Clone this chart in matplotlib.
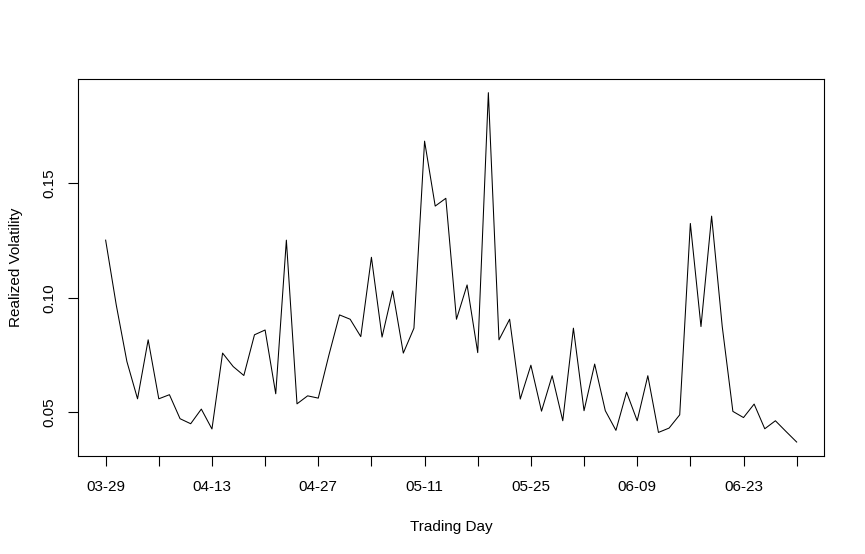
import matplotlib
matplotlib.use("Agg")
import matplotlib.pyplot as plt
import numpy as np

plt.rcParams['font.family'] = ['Liberation Sans', 'DejaVu Sans']

volatility = [
    0.1252, 0.0968, 0.0721, 0.0558, 0.0816, 0.0558, 0.0576, 0.0471, 0.0449, 0.0513,
    0.0426, 0.0758, 0.0699, 0.0660, 0.0838, 0.0859, 0.0580, 0.1252, 0.0536, 0.0571,
    0.0561, 0.0749, 0.0925, 0.0906, 0.0830, 0.1177, 0.0828, 0.1030, 0.0758, 0.0867,
    0.1685, 0.1401, 0.1435, 0.0906, 0.1056, 0.0760, 0.1897, 0.0816, 0.0906, 0.0557,
    0.0705, 0.0504, 0.0659, 0.0462, 0.0867, 0.0506, 0.0710, 0.0506, 0.0420, 0.0587,
    0.0462, 0.0659, 0.0411, 0.0430, 0.0488, 0.1325, 0.0874, 0.1357, 0.0874, 0.0503,
    0.0476, 0.0535, 0.0427, 0.0462, 0.0415, 0.0369,
]
x_tick_labels = ["03-29", "", "04-13", "", "04-27", "", "05-11", "",
                 "05-25", "", "06-09", "", "06-23", ""]
y_ticks = [0.05, 0.10, 0.15]
y_tick_labels = ["0.05", "0.10", "0.15"]

n = len(volatility)
x = np.arange(n)

fig = plt.figure(figsize=(8.65, 5.54), dpi=100)
ax = fig.add_axes([78 / 865, 1 - 456 / 554, (824.3 - 78) / 865, (456 - 78.7) / 554])
ax.plot(x, volatility, color='black', linewidth=0.75)

xr = n - 1
ax.set_xlim(-0.04 * xr, xr + 0.04 * xr)
ymin, ymax = min(volatility), max(volatility)
yr = ymax - ymin
ax.set_ylim(ymin - 0.04 * yr, ymax + 0.04 * yr)

ax.set_xticks(np.arange(0, n, 5))
ax.set_xticklabels(x_tick_labels)
ax.set_yticks(y_ticks)
ax.set_yticklabels(y_tick_labels, rotation=90, va='center')

for s in ax.spines.values():
    s.set_linewidth(0.8)
ax.tick_params(axis='both', length=7, width=0.8, labelsize=11, colors='black')
ax.tick_params(axis='x', pad=10)
ax.tick_params(axis='y', pad=8.5)

ax.set_xlabel("Trading Day", fontsize=11, labelpad=19)
ax.set_ylabel("Realized Volatility", fontsize=11, labelpad=14)

fig.savefig("out.png", dpi=100)
